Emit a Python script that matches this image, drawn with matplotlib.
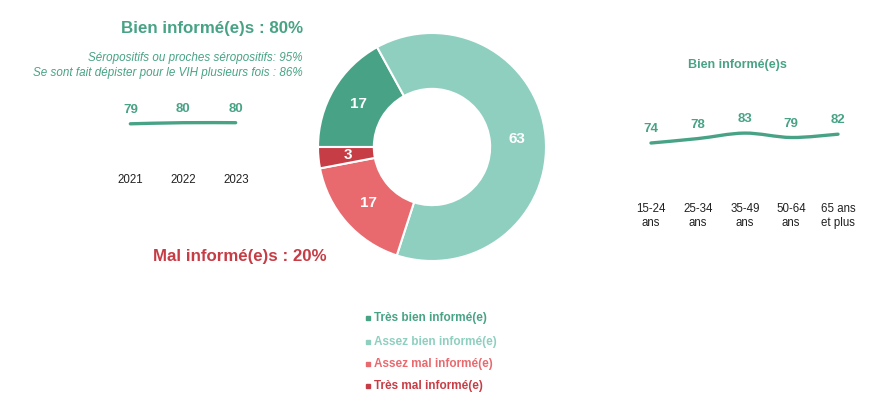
import matplotlib
matplotlib.use("Agg")
import matplotlib.pyplot as plt
from matplotlib.path import Path
from matplotlib.patches import PathPatch
import math

plt.rcParams['font.family'] = ['Liberation Sans', 'DejaVu Sans']

# ---- data ----
donut_labels = ["Très bien informé(e)", "Assez bien informé(e)", "Assez mal informé(e)", "Très mal informé(e)"]
donut_values = [17, 63, 17, 3]
donut_colors = ["#48a386", "#8ecfbf", "#e8696e", "#c63d46"]

years = ["2021", "2022", "2023"]
year_values = [79, 80, 80]

ages = ["15-24\nans", "25-34\nans", "35-49\nans", "50-64\nans", "65 ans\net plus"]
age_values = [74, 78, 83, 79, 82]

title_good = "Bien informé(e)s : 80%"
title_bad = "Mal informé(e)s : 20%"
sub_lines = ["Séropositifs ou proches séropositifs: 95%",
             "Se sont fait dépister pour le VIH plusieurs fois : 86%"]
age_title = "Bien informé(e)s"

GREEN = "#48a386"
RED = "#c63d46"
DARK = "#222222"

W, H = 892, 397
fig = plt.figure(figsize=(W / 100, H / 100), dpi=100)


def fx(x):
    return x / W


def fy(y):
    return (H - y) / H


def ax_px(x0, y0, x1, y1):
    return fig.add_axes([fx(x0), fy(y1), (x1 - x0) / W, (y1 - y0) / H])


def smooth_line(ax, xs, ys, **kw):
    """Draw a smoothed line through the data points with cubic Bezier segments."""
    n = len(xs)
    verts = [(xs[0], ys[0])]
    codes = [Path.MOVETO]
    for i in range(n - 1):
        x0, y0 = xs[i], ys[i]
        x1, y1 = xs[i + 1], ys[i + 1]
        xp, yp = (xs[i - 1], ys[i - 1]) if i > 0 else (x0, y0)
        xn, yn = (xs[i + 2], ys[i + 2]) if i + 2 < n else (x1, y1)
        t = 1 / 6
        c1 = (x0 + (x1 - xp) * t, y0 + (y1 - yp) * t)
        c2 = (x1 - (xn - x0) * t, y1 - (yn - y0) * t)
        verts += [c1, c2, (x1, y1)]
        codes += [Path.CURVE4] * 3
    ax.add_patch(PathPatch(Path(verts, codes), fill=False, **kw))


# ---- donut ----
cx, cy, r = 432, 147, 114
ax = ax_px(cx - r, cy - r, cx + r, cy + r)
wedges, _ = ax.pie(donut_values, colors=donut_colors, startangle=180, counterclock=False,
                   radius=1, wedgeprops=dict(width=0.49, edgecolor="white", linewidth=1.5))
ax.set_xlim(-1, 1)
ax.set_ylim(-1, 1)
ax.set_aspect("equal")
ax.axis("off")
start = 180.0
for v in donut_values:
    mid = start - v * 3.6 / 2
    rr = 0.745
    ax.text(rr * math.cos(math.radians(mid)), rr * math.sin(math.radians(mid)), str(v),
            ha="center", va="center", color="white", fontsize=11, fontweight="bold")
    start -= v * 3.6

# ---- titles ----
fig.text(fx(303), fy(28), title_good, ha="right", va="center", color=GREEN,
         fontsize=12.2, fontweight="bold")
fig.text(fx(303), fy(58), sub_lines[0], ha="right", va="center", color=GREEN,
         fontsize=8.4, style="italic")
fig.text(fx(303), fy(73), sub_lines[1], ha="right", va="center", color=GREEN,
         fontsize=8.4, style="italic")
fig.text(fx(153), fy(257), title_bad, ha="left", va="center", color=RED,
         fontsize=12.2, fontweight="bold")

# ---- years mini chart ----
ax1 = ax_px(104, 100.7, 262, 210.7)
ax1.set_xlim(-0.5, 2.5)
ax1.set_ylim(0, 100)
ax1.axis("off")
xs = list(range(len(years)))
smooth_line(ax1, xs, year_values, edgecolor=GREEN, lw=2.4, capstyle="round")
for x, v in zip(xs, year_values):
    ax1.annotate(str(v), (x, v), xytext=(0, 10), textcoords="offset points",
                 ha="center", va="center", color=GREEN, fontsize=9.5, fontweight="bold")
for x, lab in zip([130, 183, 236], years):
    fig.text(fx(x), fy(180), lab, ha="center", va="center", color=DARK, fontsize=8.3)

# ---- age mini chart ----
fig.text(fx(737), fy(65), age_title, ha="center", va="center", color=GREEN,
         fontsize=9, fontweight="bold")
ax2 = ax_px(627.6, 114.4, 861.4, 224.4)
ax2.set_xlim(-0.5, 4.5)
ax2.set_ylim(0, 100)
ax2.axis("off")
xs2 = list(range(len(ages)))
smooth_line(ax2, xs2, age_values, edgecolor=GREEN, lw=2.4, capstyle="round")
for x, v in zip(xs2, age_values):
    ax2.annotate(str(v), (x, v), xytext=(0, 10), textcoords="offset points",
                 ha="center", va="center", color=GREEN, fontsize=9.5, fontweight="bold")
for x, lab in zip([651, 698, 745, 791, 838], ages):
    fig.text(fx(x), fy(216), lab, ha="center", va="center", color=DARK, fontsize=8.3,
             linespacing=1.15)

# ---- legend ----
for i, (lab, col) in enumerate(zip(donut_labels, donut_colors)):
    y = [318, 342, 364, 386][i]
    fig.patches.append(plt.Rectangle((fx(366), fy(y + 2)), 4 / W, 4 / H, color=col,
                                     transform=fig.transFigure, figure=fig))
    fig.text(fx(374), fy(y), lab, ha="left", va="center", color=col, fontsize=8.5,
             fontweight="bold")

fig.savefig("out.png", dpi=100)
